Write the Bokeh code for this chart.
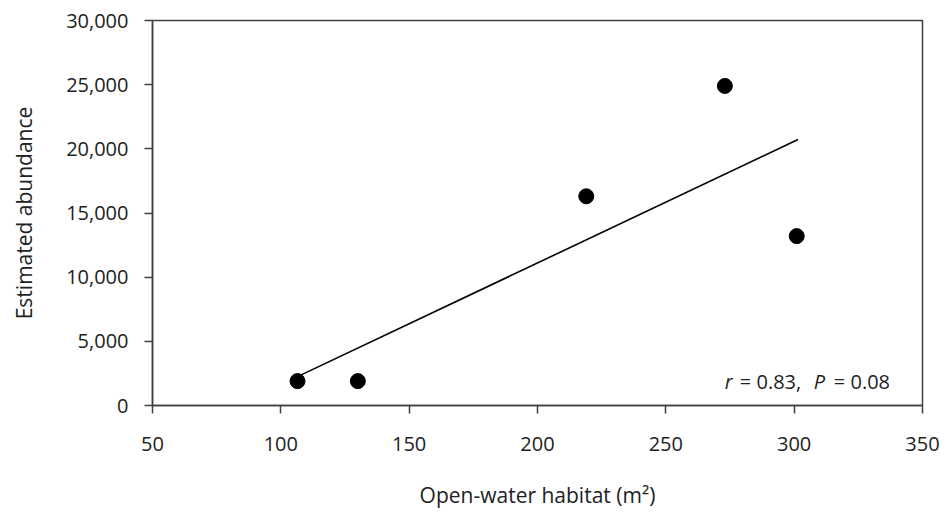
from bokeh.plotting import figure
from bokeh.models import Range1d, NumeralTickFormatter, FixedTicker, Label
from bokeh.embed import file_html
from bokeh.resources import INLINE

# Data
habitat = [106.5, 130, 219, 273, 301]
abundance = [1900, 1900, 16300, 24900, 13200]
trend_x = [106.5, 301.5]
trend_y = [2250, 20720]
x_ticks = [50, 100, 150, 200, 250, 300, 350]
y_ticks = [0, 5000, 10000, 15000, 20000, 25000, 30000]

FONT = "Open Sans"
AX = "#404040"
TXT = "#222222"

p = figure(width=943, height=511, output_backend="svg", toolbar_location=None,
           x_range=Range1d(50, 350), y_range=Range1d(0, 30000),
           min_border_left=152, min_border_right=21, min_border_top=20,
           min_border_bottom=100)
p.background_fill_color = "white"
p.border_fill_color = "white"
p.outline_line_color = AX
p.outline_line_width = 1.5
p.xgrid.visible = False
p.ygrid.visible = False

for ax in (p.xaxis[0], p.yaxis[0]):
    ax.axis_line_color = AX
    ax.axis_line_width = 1.5
    ax.major_tick_line_color = AX
    ax.major_tick_line_width = 1.5
    ax.major_tick_in = 0
    ax.major_tick_out = 8
    ax.minor_tick_line_color = None
    ax.major_label_text_font = FONT
    ax.major_label_text_font_size = "20px"
    ax.major_label_text_color = TXT
    ax.axis_label_text_font = FONT
    ax.axis_label_text_font_size = "21px"
    ax.axis_label_text_font_style = "normal"
    ax.axis_label_text_color = TXT

p.xaxis.ticker = FixedTicker(ticks=x_ticks)
p.yaxis.ticker = FixedTicker(ticks=y_ticks)
p.yaxis.formatter = NumeralTickFormatter(format="0,0")
p.xaxis.axis_label = "Open-water habitat (m²)"
p.yaxis.axis_label = "Estimated abundance"
p.xaxis.major_label_standoff = 23
p.yaxis.major_label_standoff = 16
p.xaxis.axis_label_standoff = 27
p.yaxis.axis_label_standoff = 25

p.line(trend_x, trend_y, line_color="black", line_width=1.6)
p.scatter(habitat, abundance, size=15, fill_color="black", line_color="black")

# annotation "r = 0.83, P = 0.08" with italic r and P
pieces = [("r", "italic", 0), ("= 0.83,", "normal", 15), ("P", "italic", 89), ("= 0.08", "normal", 109)]
for txt, style, off in pieces:
    p.add_layout(Label(x=273.0, y=1865, x_offset=off, text=txt, text_font=FONT,
                       text_font_style=style, text_font_size="20px",
                       text_color=TXT, text_baseline="alphabetic",
                       text_align="left"))

open("out.html", "w").write(file_html(p, INLINE))
